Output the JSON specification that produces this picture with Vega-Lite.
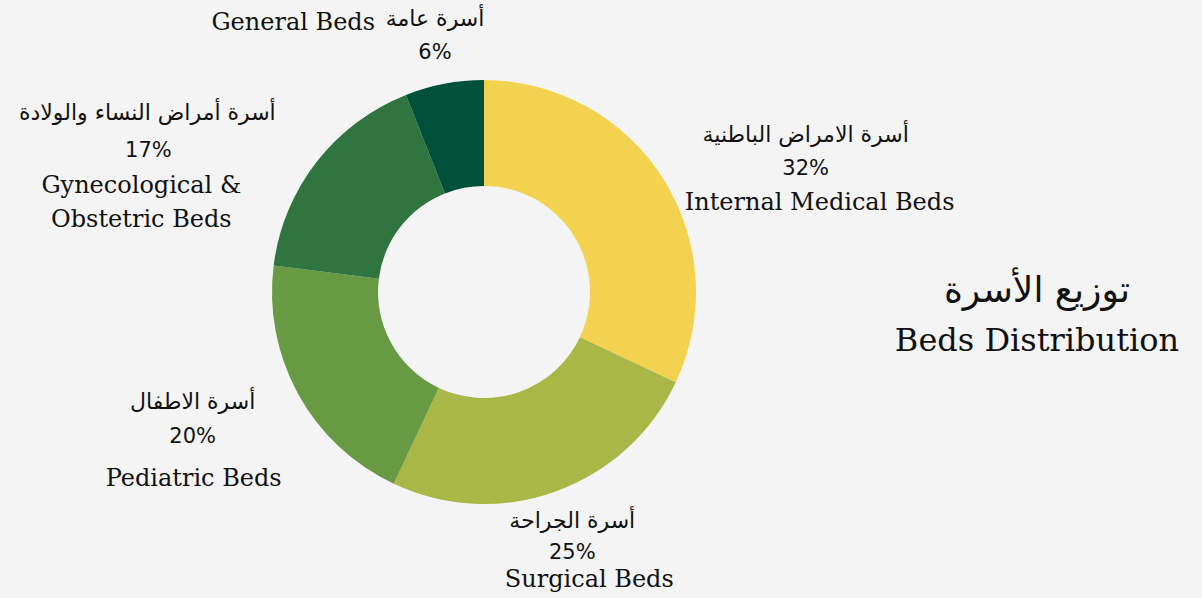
{
 "$schema": "https://vega.github.io/schema/vega-lite/v6.json",
 "width": 968, "height": 584,
 "autosize": {"type": "none"},
 "padding": {"left": 0, "top": 0, "right": 234, "bottom": 14},
 "background": "#F4F4F4",
 "config": {"view": {"stroke": null}},
 "title": {"text": "توزيع الأسرة", "subtitle": "Beds Distribution", "anchor": "middle", "frame": "group", "dx": 553, "dy": 358, "font": "DejaVu Sans", "fontSize": 36, "fontWeight": "normal", "color": "#111111", "subtitleFont": "DejaVu Serif", "subtitleFontSize": 32, "subtitleColor": "#111111", "subtitlePadding": 16, "offset": 0},
 "data": {"values": [
  {"rank": 1, "category": "internal", "share": 0.32, "ar": "أسرة الامراض الباطنية", "en": "Internal Medical Beds"},
  {"rank": 2, "category": "surgical", "share": 0.25, "ar": "أسرة الجراحة", "en": "Surgical Beds"},
  {"rank": 3, "category": "pediatric", "share": 0.20, "ar": "أسرة الاطفال", "en": "Pediatric Beds"},
  {"rank": 4, "category": "gyn", "share": 0.17, "ar": "أسرة أمراض النساء والولادة", "en": "Gynecological &\nObstetric Beds"},
  {"rank": 5, "category": "general", "share": 0.06, "ar": "أسرة عامة", "en": "General Beds"}
 ]},
 "encoding": {
  "theta": {"field": "share", "type": "quantitative", "stack": true},
  "order": {"field": "rank", "type": "quantitative"},
  "detail": {"field": "category", "type": "nominal"}
 },
 "layer": [
  {"mark": {"type": "arc", "outerRadius": 212, "innerRadius": 106},
   "encoding": {"color": {"field": "category", "type": "nominal", "legend": null,
     "scale": {"domain": ["internal", "surgical", "pediatric", "gyn", "general"], "range": ["#F3D250", "#A9B747", "#679A42", "#30753F", "#00503A"]}}}},

  {"mark": {"type": "text", "radius": 240, "align": "center", "baseline": "alphabetic", "dx": 119, "dy": -21, "font": "DejaVu Sans", "fontSize": 22, "color": "#111111"},
   "encoding": {"text": {"condition": {"test": "datum.category === 'internal'", "field": "ar"}, "value": ""}}},
  {"mark": {"type": "text", "radius": 240, "align": "center", "baseline": "alphabetic", "dx": 119, "dy": 12, "font": "DejaVu Sans", "fontSize": 21, "color": "#111111"},
   "encoding": {"text": {"condition": {"test": "datum.category === 'internal'", "field": "share", "type": "quantitative", "format": ".0%"}, "value": ""}}},
  {"mark": {"type": "text", "radius": 240, "align": "center", "baseline": "alphabetic", "dx": 133, "dy": 47, "font": "DejaVu Serif", "fontSize": 24, "color": "#111111"},
   "encoding": {"text": {"condition": {"test": "datum.category === 'internal'", "field": "en"}, "value": ""}}},

  {"mark": {"type": "text", "radius": 240, "align": "center", "baseline": "alphabetic", "dx": 7, "dy": 10, "font": "DejaVu Sans", "fontSize": 22, "color": "#111111"},
   "encoding": {"text": {"condition": {"test": "datum.category === 'surgical'", "field": "ar"}, "value": ""}}},
  {"mark": {"type": "text", "radius": 240, "align": "center", "baseline": "alphabetic", "dx": 7, "dy": 41, "font": "DejaVu Sans", "fontSize": 21, "color": "#111111"},
   "encoding": {"text": {"condition": {"test": "datum.category === 'surgical'", "field": "share", "type": "quantitative", "format": ".0%"}, "value": ""}}},
  {"mark": {"type": "text", "radius": 240, "align": "center", "baseline": "alphabetic", "dx": 24, "dy": 69, "font": "DejaVu Serif", "fontSize": 24, "color": "#111111"},
   "encoding": {"text": {"condition": {"test": "datum.category === 'surgical'", "field": "en"}, "value": ""}}},

  {"mark": {"type": "text", "radius": 240, "align": "center", "baseline": "alphabetic", "dx": -81, "dy": 1, "font": "DejaVu Sans", "fontSize": 22, "color": "#111111"},
   "encoding": {"text": {"condition": {"test": "datum.category === 'pediatric'", "field": "ar"}, "value": ""}}},
  {"mark": {"type": "text", "radius": 240, "align": "center", "baseline": "alphabetic", "dx": -81, "dy": 35, "font": "DejaVu Sans", "fontSize": 21, "color": "#111111"},
   "encoding": {"text": {"condition": {"test": "datum.category === 'pediatric'", "field": "share", "type": "quantitative", "format": ".0%"}, "value": ""}}},
  {"mark": {"type": "text", "radius": 240, "align": "center", "baseline": "alphabetic", "dx": -80, "dy": 78, "font": "DejaVu Serif", "fontSize": 24, "color": "#111111"},
   "encoding": {"text": {"condition": {"test": "datum.category === 'pediatric'", "field": "en"}, "value": ""}}},

  {"mark": {"type": "text", "radius": 240, "align": "center", "baseline": "alphabetic", "dx": -147, "dy": -25, "font": "DejaVu Sans", "fontSize": 22, "color": "#111111"},
   "encoding": {"text": {"condition": {"test": "datum.category === 'gyn'", "field": "ar"}, "value": ""}}},
  {"mark": {"type": "text", "radius": 240, "align": "center", "baseline": "alphabetic", "dx": -146, "dy": 12, "font": "DejaVu Sans", "fontSize": 21, "color": "#111111"},
   "encoding": {"text": {"condition": {"test": "datum.category === 'gyn'", "field": "share", "type": "quantitative", "format": ".0%"}, "value": ""}}},
  {"mark": {"type": "text", "radius": 240, "align": "center", "baseline": "alphabetic", "dx": -153, "dy": 48, "font": "DejaVu Serif", "fontSize": 24, "lineHeight": 34, "lineBreak": "\n", "color": "#111111"},
   "encoding": {"text": {"condition": {"test": "datum.category === 'gyn'", "field": "en"}, "value": ""}}},

  {"mark": {"type": "text", "radius": 240, "align": "center", "baseline": "alphabetic", "dx": -4, "dy": -30, "font": "DejaVu Sans", "fontSize": 22, "color": "#111111"},
   "encoding": {"text": {"condition": {"test": "datum.category === 'general'", "field": "ar"}, "value": ""}}},
  {"mark": {"type": "text", "radius": 240, "align": "center", "baseline": "alphabetic", "dx": -4, "dy": 3, "font": "DejaVu Sans", "fontSize": 21, "color": "#111111"},
   "encoding": {"text": {"condition": {"test": "datum.category === 'general'", "field": "share", "type": "quantitative", "format": ".0%"}, "value": ""}}},
  {"mark": {"type": "text", "radius": 240, "align": "right", "baseline": "alphabetic", "dx": -64, "dy": -26, "font": "DejaVu Serif", "fontSize": 24, "color": "#111111"},
   "encoding": {"text": {"condition": {"test": "datum.category === 'general'", "field": "en"}, "value": ""}}}
 ]
}
